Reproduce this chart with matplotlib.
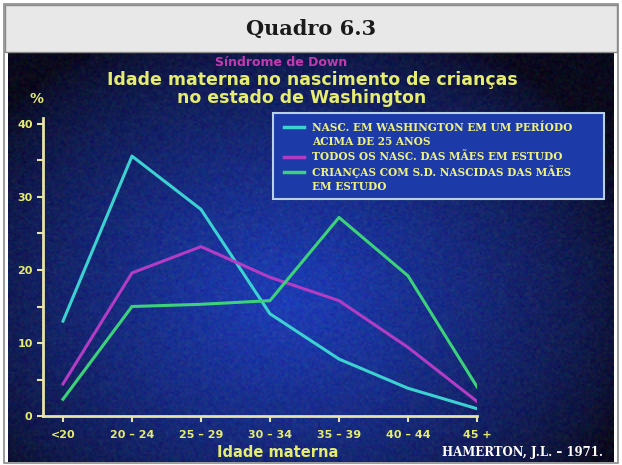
import numpy as np
import matplotlib
matplotlib.use("Agg")
import matplotlib.pyplot as plt
from matplotlib.patches import Rectangle
from matplotlib.lines import Line2D

# ---------------- data ----------------
categories = ["<20", "20 – 24", "25 – 29", "30 – 34", "35 – 39", "40 – 44", "45 +"]
washington = [13.0, 35.6, 28.3, 14.0, 7.8, 3.8, 1.0]
todas_maes = [4.4, 19.6, 23.2, 19.0, 15.8, 9.4, 2.0]
criancas_sd = [2.3, 15.0, 15.3, 15.8, 27.2, 19.2, 4.0]
legend_labels = ["NASC. EM WASHINGTON EM UM PERÍODO\nACIMA DE 25 ANOS",
                 "TODOS OS NASC. DAS MÃES EM ESTUDO",
                 "CRIANÇAS COM S.D. NASCIDAS DAS MÃES\nEM ESTUDO"]
yticks = [0, 10, 20, 30, 40]

W, H = 622, 465
fig = plt.figure(figsize=(W / 100, H / 100), dpi=100)
fig.patch.set_facecolor("white")

def fx(x): return x / W
def fy(y): return 1 - y / H

# photo background
bg = fig.add_axes([fx(8), fy(462), fx(606), 410 / H])
bg.set_axis_off()
bg.set_zorder(0)
ny, nx = 205, 303
yy, xx = np.mgrid[0:ny, 0:nx]
u = xx / nx
v = yy / ny
d = np.sqrt(((u - 0.46) / 0.60) ** 2 + ((v - 0.60) / 0.72) ** 2)
t = np.clip(1 - d, 0, 1) ** 0.7
c_edge = np.array([0.04, 0.04, 0.11])
c_mid = np.array([0.12, 0.24, 0.72])
img = c_edge[None, None, :] + (c_mid - c_edge)[None, None, :] * t[..., None]
rng = np.random.default_rng(3)
img = np.clip(img + rng.normal(0, 0.025, img.shape), 0, 1)
bg.imshow(img, aspect="auto", extent=[0, 1, 0, 1], interpolation="bilinear")

# outer frame and header
fig.patches.append(Rectangle((fx(4), fy(463)), fx(614), 459 / H, transform=fig.transFigure,
                             facecolor="none", edgecolor="#8a8a8a", lw=1.2, zorder=10))
fig.patches.append(Rectangle((fx(5), fy(52)), fx(612), 47 / H, transform=fig.transFigure,
                             facecolor="#e8e8e8", edgecolor="#8a8a8a", lw=1.0, zorder=10))
fig.text(fx(311), fy(29), "Quadro 6.3", ha="center", va="center", fontsize=15,
         fontweight="bold", family="DejaVu Serif", color="#1a1a1a", zorder=11)

# titles on slide
fig.text(fx(281), fy(62), "Síndrome de Down", ha="center", va="center", fontsize=9,
         color="#c03ab0", fontweight="bold", zorder=5)
fig.text(fx(312), fy(80), "Idade materna no nascimento de crianças", ha="center", va="center",
         fontsize=12.5, color="#e6ec70", fontweight="bold", zorder=5)
fig.text(fx(302), fy(98), "no estado de Washington", ha="center", va="center",
         fontsize=12.5, color="#e6ec70", fontweight="bold", zorder=5)
fig.text(fx(36), fy(99), "%", ha="center", va="center", fontsize=10,
         color="#e6ec70", fontweight="bold", zorder=5)

# main axes
x0, x1 = 43, 477
y0, y1 = 416, 118
step = 69
xlo = -(63 - x0) / step
xhi = (x1 - 63) / step
ax = fig.add_axes([fx(x0), fy(y0), (x1 - x0) / W, (y0 - y1) / H])
ax.set_zorder(2)
ax.set_facecolor("none")
ax.patch.set_alpha(0)
ax.set_xlim(xlo, xhi)
ax.set_ylim(0, (y0 - y1) / 7.3)
for s in ["top", "right"]:
    ax.spines[s].set_visible(False)
axcol = "#e6e4a8"
ax.spines["left"].set_color(axcol)
ax.spines["bottom"].set_color(axcol)
ax.spines["left"].set_linewidth(2)
ax.spines["bottom"].set_linewidth(2)

xs = np.arange(len(categories))
ax.plot(xs, washington, color="#3cd2d2", lw=2.2, zorder=3)
ax.plot(xs, todas_maes, color="#b23cc4", lw=2.2, zorder=3)
ax.plot(xs, criancas_sd, color="#3cd27a", lw=2.2, zorder=3)

ax.set_xticks(xs)
ax.set_xticklabels(categories)
ax.set_yticks(yticks)
ax.set_yticks([5, 15, 25, 35], minor=True)
ax.tick_params(axis="both", colors=axcol, length=4, width=1.5, labelsize=8,
               labelcolor="#e6ec70", direction="out")
ax.tick_params(axis="y", which="minor", colors=axcol, length=4, width=1.5)
for lab in ax.get_xticklabels() + ax.get_yticklabels():
    lab.set_fontweight("bold")
ax.tick_params(axis="x", pad=6)

fig.text(fx(278), fy(452), "Idade materna", ha="center", va="center", fontsize=10.5,
         color="#e6ec70", fontweight="bold", zorder=5)
fig.text(fx(522), fy(452), "HAMERTON, J.L. – 1971.", ha="center", va="center", fontsize=8.5,
         color="white", fontweight="bold", family="DejaVu Serif", zorder=5)

# legend box (manual)
fig.patches.append(Rectangle((fx(273), fy(199)), (604 - 273) / W, (199 - 113) / H,
                             transform=fig.transFigure, facecolor="#1c3aa8",
                             edgecolor="#b8d0e0", lw=1.5, zorder=4))
leg_colors = ["#3cd2d2", "#b23cc4", "#3cd27a"]
leg_y = [127, 157, 172]
for col, ly, lab in zip(leg_colors, leg_y, legend_labels):
    fig.lines.append(Line2D([fx(284), fx(304)], [fy(ly), fy(ly)], transform=fig.transFigure,
                            color=col, lw=2.5, zorder=5))
    for i, line in enumerate(lab.split("\n")):
        fig.text(fx(312), fy(ly + i * 14.5), line, ha="left", va="center", fontsize=7.6,
                 color="#eef080", fontweight="bold", family="DejaVu Serif", zorder=6)

fig.savefig("out.png", dpi=100, facecolor="white")
